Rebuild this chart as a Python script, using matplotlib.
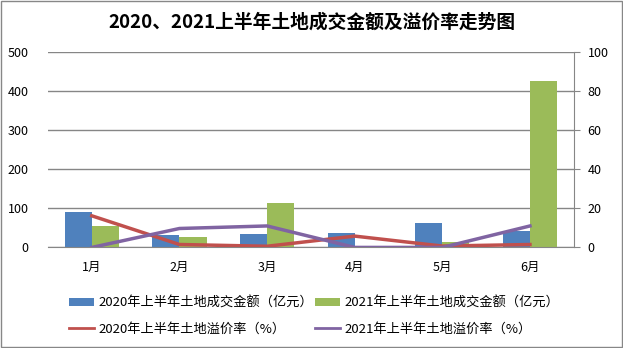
import matplotlib.pyplot as plt
import numpy as np
from matplotlib.lines import Line2D
from matplotlib.patches import Rectangle

plt.rcParams['font.family'] = ['Noto Sans CJK SC', 'DejaVu Sans']

months = ["1月", "2月", "3月", "4月", "5月", "6月"]
amount_2020 = [91, 31, 34, 37, 62, 42]
amount_2021 = [55, 27, 115, 0, 14, 426]
premium_2020 = [16.2, 1.5, 0.6, 5.8, 0.7, 1.5]
premium_2021 = [0, 9.7, 11, 0, 0, 11]

blue = "#4F81BD"
green = "#9BBB59"
red = "#C0504D"
purple = "#8064A2"
grid_gray = "#868686"

fig = plt.figure(figsize=(6.23, 3.48), dpi=100)
ax = fig.add_axes([0.077, 0.289, 0.844, 0.561])
ax2 = ax.twinx()

x = np.arange(len(months))
w = 0.31
b1 = ax.bar(x - w / 2, amount_2020, w, color=blue, label="2020年上半年土地成交金额（亿元）", zorder=2)
b2 = ax.bar(x + w / 2, amount_2021, w, color=green, label="2021年上半年土地成交金额（亿元）", zorder=2)

ax2.plot(x, premium_2020, color=red, lw=2.5)
ax2.plot(x, premium_2021, color=purple, lw=2.5)
l1 = Line2D([], [], color=red, lw=2, label="2020年上半年土地溢价率（%）")
l2 = Line2D([], [], color=purple, lw=2, label="2021年上半年土地溢价率（%）")

ax.set_xlim(-0.5, len(months) - 0.5)
ax.set_ylim(0, 500)
ax.set_yticks(range(0, 501, 100))
ax2.set_ylim(0, 100)
ax2.set_yticks(range(0, 101, 20))
ax.set_xticks(x)
ax.set_xticklabels(months)

ax.yaxis.grid(True, color=grid_gray, lw=1)
ax.set_axisbelow(True)

for a in (ax, ax2):
    for s in ("top", "left"):
        a.spines[s].set_visible(False)
ax.spines["right"].set_visible(False)
ax2.spines["bottom"].set_visible(False)
ax.spines["bottom"].set_color(grid_gray)
ax2.spines["right"].set_color(grid_gray)

ax.tick_params(axis="y", length=0, labelsize=9, pad=14)
ax.tick_params(axis="x", length=0, labelsize=9, pad=10)
ax2.tick_params(axis="y", length=4, color=grid_gray, direction="out", labelsize=9, pad=6)

fig.suptitle("2020、2021上半年土地成交金额及溢价率走势图", y=0.965, fontsize=13.5, fontweight="bold")

# two legend columns, bars on the first row and lines on the second
leg_kw = dict(loc="upper left", frameon=False, fontsize=9.5, handlelength=1.9,
              handleheight=0.55, handletextpad=0.3, labelspacing=0.95, borderpad=0,
              borderaxespad=0)
fig.legend([b1, l1], [b1.get_label(), l1.get_label()],
           bbox_to_anchor=(69 / 623, 1 - 297 / 348), **leg_kw)
fig.legend([b2, l2], [b2.get_label(), l2.get_label()],
           bbox_to_anchor=(315 / 623, 1 - 297 / 348), **leg_kw)

fig.patches.append(Rectangle((0.002, 0.003), 0.996, 0.994, transform=fig.transFigure,
                             fill=False, edgecolor="#878787", lw=1))

fig.savefig("out.png", dpi=100)
